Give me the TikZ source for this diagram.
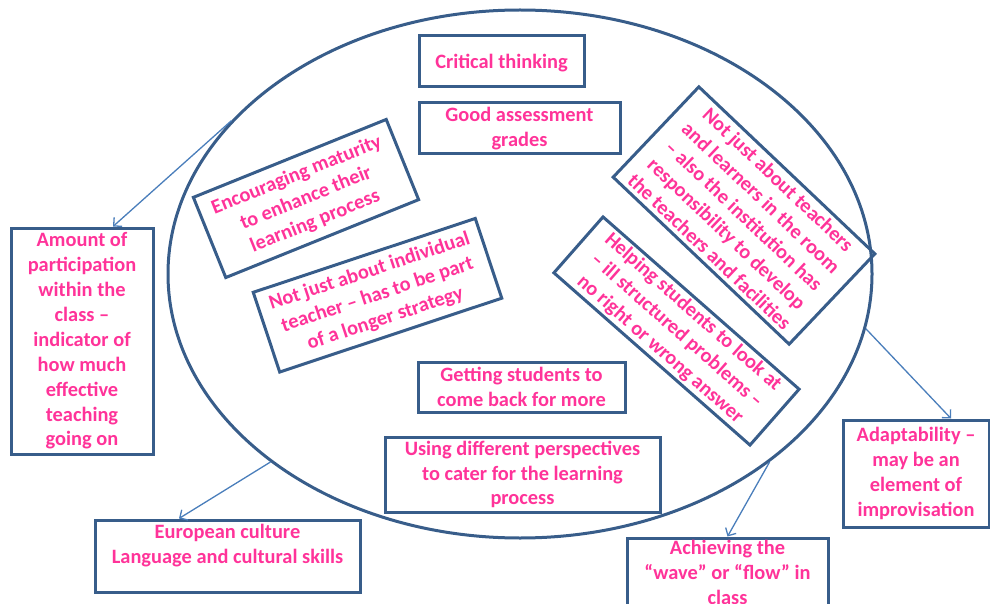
\documentclass[tikz,border=0pt]{standalone}
\usepackage{fontspec}
\setmainfont{Carlito}
\usetikzlibrary{shapes.geometric,arrows.meta}
\definecolor{boxblue}{RGB}{56,93,138}
\definecolor{arrowblue}{RGB}{74,126,187}
\definecolor{txtpink}{RGB}{255,51,153}
\begin{document}
\begin{tikzpicture}[x=1pt,y=-1pt,
  box/.style={draw=boxblue, line width=3pt, inner sep=0pt, align=center, text=txtpink,
    font=\fontsize{20.4}{24.9}\selectfont\bfseries},
  ringshape/.style={draw=boxblue, line width=3pt, ellipse, inner sep=0pt},
  conn/.style={draw=arrowblue, line width=1.3pt, -{Straight Barb[length=6pt,width=12pt]}}]
\useasboundingbox (0,0) rectangle (990,604);
\clip (0,0) rectangle (990,604);

\node[ringshape, minimum width=704pt, minimum height=528pt] (ell) at (520,274) {};

\node[box, minimum width=165pt, minimum height=51pt, text depth=0pt] (crit) at (501.5,61.5) {Critical thinking};
\node[box, minimum width=201pt, minimum height=51pt] (good) at (519.5,128.5) {Good assessment\\grades};
\node[box, minimum width=142pt, minimum height=226pt] (amt) at (82,341)
  {Amount of\\participation\\within the\\class –\\indicator of\\how much\\effective\\teaching\\going on};
\node[box, minimum width=265pt, minimum height=72pt, text depth=24pt] (eu) at (227.5,556)
  {European culture\\Language and cultural skills};
\node[box, minimum width=275pt, minimum height=75pt] (use) at (522.5,474.5)
  {Using different perspectives\\to cater for the learning\\process};
\node[box, minimum width=207pt, minimum height=50pt] (get) at (521.5,387)
  {Getting students to\\come back for more};
\node[box, minimum width=146pt, minimum height=107pt] (adapt) at (916,473.5)
  {Adaptability –\\may be an\\element of\\improvisation};
\node[box, minimum width=201pt, minimum height=69pt] (ach) at (727.5,572.5)
  {Achieving the\\“wave” or “flow” in\\class};

\node[box, rotate=22, minimum width=208pt, minimum height=86.5pt] (enc) at (306,198.5)
  {Encouraging maturity\\to enhance their\\learning process};
\node[box, rotate=18.4, minimum width=234pt, minimum height=84pt] (ind) at (377.5,295.25)
  {Not just about individual\\teacher – has to be part\\of a longer strategy};
\node[box, rotate=-43.5, minimum width=242.6pt, minimum height=124.5pt] (inst) at (744,215.5)
  {Not just about teachers\\and learners in the room\\– also the institution has\\responsibility to develop\\the teachers and facilities};
\node[box, rotate=-41.3, minimum width=261pt, minimum height=74.4pt] (help) at (676.5,331)
  {Helping students to look at\\– ill structured problems –\\no right or wrong answer};

\draw[conn] (ell.152.2) -- ([xshift=31pt]amt.north);
\draw[conn] (ell.217.05) -- ([xshift=-48.5pt]eu.north);
\draw[conn] (ell.-37.3) -- (ach.north);
\draw[conn] (ell.-9.3) -- ([xshift=35pt]adapt.north);
\end{tikzpicture}
\end{document}
